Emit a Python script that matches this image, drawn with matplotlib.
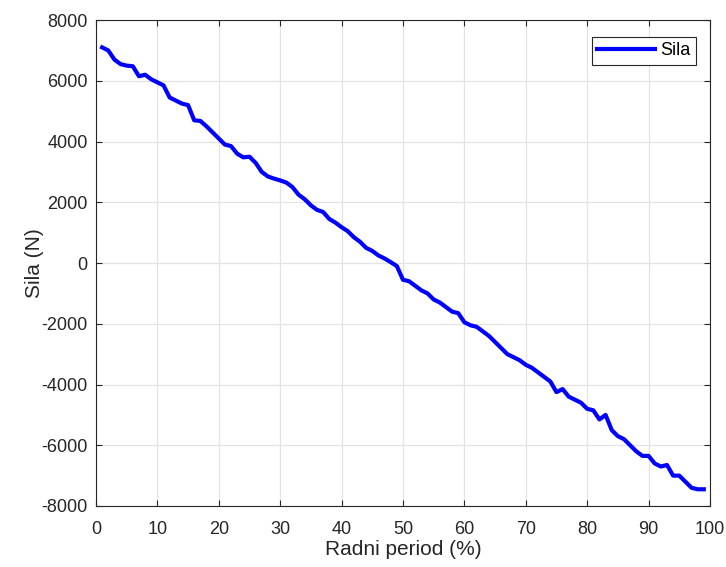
import matplotlib.pyplot as plt

plt.rcParams['font.family'] = ['Liberation Sans', 'DejaVu Sans']
plt.rcParams['axes.unicode_minus'] = False

# Radni period (%) i sila (N)
period = list(range(1, 100))
sila = [7100, 7000, 6700, 6550, 6500, 6480, 6150, 6200, 6050, 5950,
        5850, 5450, 5350, 5250, 5200, 4700, 4680, 4500, 4300, 4100,
        3900, 3850, 3600, 3480, 3500, 3300, 3000, 2850, 2780, 2720,
        2650, 2500, 2250, 2100, 1900, 1750, 1680, 1450, 1330, 1180,
        1050, 850, 700, 500, 400, 250, 150, 30, -100, -550,
        -600, -750, -900, -1000, -1200, -1300, -1450, -1600, -1650, -1950,
        -2050, -2100, -2250, -2400, -2600, -2800, -3000, -3100, -3200, -3350,
        -3450, -3600, -3750, -3900, -4250, -4150, -4400, -4500, -4600, -4800,
        -4850, -5150, -5000, -5500, -5700, -5800, -6000, -6200, -6350, -6350,
        -6600, -6700, -6650, -7000, -7000, -7200, -7400, -7450, -7450]

fig = plt.figure(figsize=(7.26, 5.67), dpi=100)
ax = fig.add_axes([0.1322, 0.1076, 0.8457, 0.857])

ax.plot(period, sila, color='#0000ff', linewidth=3, label='Sila')

ax.set_xlim(0, 100)
ax.set_ylim(-8000, 8000)
ax.set_xticks(range(0, 101, 10))
ax.set_yticks(range(-8000, 8001, 2000))
ax.grid(True, color='#e3e3e3', linewidth=0.9)
ax.set_axisbelow(True)
ax.tick_params(direction='in', length=4, labelsize=13, colors='#262626',
               pad=6, top=True, right=True)
ax.tick_params(axis='x', pad=11)
for s in ax.spines.values():
    s.set_color('#262626')
    s.set_linewidth(0.8)

ax.set_xlabel('Radni period (%)', fontsize=15, color='#262626', labelpad=1)
ax.set_ylabel('Sila (N)', fontsize=15, color='#262626', labelpad=-2)

leg = ax.legend(loc='upper right', fontsize=13, fancybox=False, framealpha=1,
                edgecolor='#262626', handlelength=3.2, borderpad=0.3,
                handletextpad=0.3, borderaxespad=0,
                bbox_to_anchor=(0.977, 0.965))
leg.get_frame().set_linewidth(0.8)

fig.savefig('out.png', dpi=100)
